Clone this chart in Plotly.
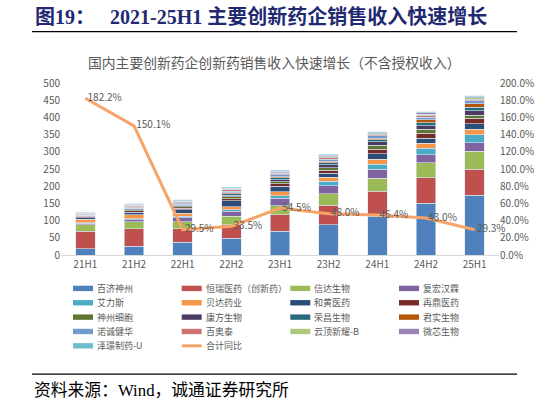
import plotly.graph_objects as go

W, H = 547, 406
# plot area in pixels
PL, PR, PT, PB = 61, 499, 83, 255.5

periods = ['21H1', '21H2', '22H1', '22H2', '23H1', '23H2', '24H1', '24H2', '25H1']

companies = ['百济神州', '恒瑞医药（创新药）', '信达生物', '复宏汉霖',
             '艾力斯', '贝达药业', '和黄医药', '再鼎医药',
             '神州细胞', '康方生物', '荣昌生物', '君实生物',
             '诺诚健华', '百奥泰', '云顶新耀-B', '微芯生物',
             '泽璟制药-U']

beigene = [18, 26, 37, 48, 69, 88, 113, 151, 173]
hengrui = [51, 50, 39, 40, 48, 56, 72, 73, 77]
innovent = [19, 20, 21, 24, 26, 34, 38, 44, 51]
henlius = [4, 6, 11, 15, 22, 24, 27, 24, 26]
allist = [2, 3, 4, 4, 7, 12, 14, 19, 22]
betta = [10, 12, 10, 10, 12, 12, 15, 14, 17]
hutchmed = [5, 7, 9, 17, 16, 12, 15, 15, 16]
zailab = [3, 5, 5, 6, 7, 8, 14, 14, 15]
sinocell = [2, 3, 4, 5, 6, 8, 11, 12, 9]
akeso = [1, 2, 4, 5, 6, 8, 10, 10, 13]
remegen = [1, 2, 3, 4, 5, 6, 6, 9, 11]
junshi = [3, 3, 2, 3, 4, 5, 5, 8, 10]
innocare = [1, 2, 3, 4, 5, 5, 6, 7, 8]
biothera = [2, 3, 3, 4, 4, 5, 4, 5, 5]
everest = [0, 1, 1, 2, 2, 3, 3, 4, 4]
chipscreen = [2, 2, 2, 3, 4, 4, 3, 4, 3]
zelgen = [1, 2, 3, 3, 3, 3, 3, 3, 3]

yoy = [1.822, 1.501, 0.295, 0.335, 0.545, 0.480, 0.464, 0.430, 0.293]
yoy_labels = ['182.2%', '150.1%', '29.5%', '33.5%', '54.5%', '48.0%', '46.4%', '43.0%', '29.3%']

series = [beigene, hengrui, innovent, henlius, allist, betta, hutchmed, zailab,
          sinocell, akeso, remegen, junshi, innocare, biothera, everest,
          chipscreen, zelgen]

colors = ['#4F81BD', '#C0504D', '#9BBB59', '#8064A2', '#4BACC6', '#F79646',
          '#2C4D75', '#772C2A', '#5F7530', '#4D3B62', '#276A7C', '#B65708',
          '#729ACA', '#CD7371', '#AFC97A', '#9983B5', '#6FBDD1']
line_color = '#F7A468'
grey = '#595959'
cjk = 'Noto Sans CJK SC'
serif = 'Liberation Serif, Noto Sans CJK SC'


def px_x(x):
    return (x - PL) / (PR - PL)


def px_y(y):
    return (PB - y) / (PB - PT)


fig = go.Figure()

for name, vals, col in zip(companies, series, colors):
    fig.add_trace(go.Bar(
        x=periods, y=vals, name=name,
        marker=dict(color=col, line=dict(color='#DCE6F2', width=0.6)),
        showlegend=False
    ))

fig.add_trace(go.Scatter(
    x=periods, y=yoy, name='合计同比', yaxis='y2',
    mode='lines+text',
    line=dict(color=line_color, width=3),
    text=['\u00a0' + t for t in yoy_labels],
    textposition='middle right',
    textfont=dict(color=grey, size=10, family=cjk),
    showlegend=False, cliponaxis=False
))

shapes = []
annotations = []

# custom legend, 4 columns like the excel one
legend_names = companies + ['合计同比']
legend_colors = colors + [line_color]
col_x = [73, 181.7, 290.3, 399]
row_y0, row_dy = 289, 14.4
for i, (nm, col) in enumerate(zip(legend_names, legend_colors)):
    cx = col_x[i % 4]
    cy = row_y0 + (i // 4) * row_dy
    if nm == '合计同比':
        shapes.append(dict(type='line', xref='paper', yref='paper',
                           x0=px_x(cx), x1=px_x(cx + 20), y0=px_y(cy), y1=px_y(cy),
                           line=dict(color=col, width=3)))
    else:
        shapes.append(dict(type='rect', xref='paper', yref='paper',
                           x0=px_x(cx), x1=px_x(cx + 20),
                           y0=px_y(cy + 2.7), y1=px_y(cy - 2.7),
                           fillcolor=col, line=dict(width=0)))
    annotations.append(dict(text=nm, xref='paper', yref='paper',
                            x=px_x(cx + 22), y=px_y(cy), xanchor='left', yanchor='middle',
                            showarrow=False, font=dict(color=grey, size=9, family=cjk)))

# header and footer rules
for yy in [31.5, 375]:
    shapes.append(dict(type='line', xref='paper', yref='paper',
                       x0=px_x(32), x1=px_x(517), y0=px_y(yy), y1=px_y(yy),
                       line=dict(color='black', width=1.2)))

annotations.append(dict(
    text='<b>图19：\u00a0\u00a0 2021-25H1 主要创新药企销售收入快速增长</b>',
    xref='paper', yref='paper', x=px_x(33), y=px_y(16),
    xanchor='left', yanchor='middle', showarrow=False,
    font=dict(color='#1F2A72', size=20, family=serif)))
annotations.append(dict(
    text='国内主要创新药企创新药销售收入快速增长（不含授权收入）',
    xref='paper', yref='paper', x=px_x(274), y=px_y(62),
    xanchor='center', yanchor='middle', showarrow=False,
    font=dict(color=grey, size=13.8, family=cjk)))
annotations.append(dict(
    text='资料来源：Wind，诚通证券研究所',
    xref='paper', yref='paper', x=px_x(32), y=px_y(391),
    xanchor='left', yanchor='middle', showarrow=False,
    font=dict(color='black', size=16.8, family=serif)))

fig.update_layout(
    width=W, height=H,
    margin=dict(l=PL, r=W - PR, t=PT, b=H - PB),
    paper_bgcolor='white', plot_bgcolor='white',
    barmode='stack', bargap=0.6,
    showlegend=False,
    font=dict(family=cjk, color=grey, size=10),
    xaxis=dict(showgrid=False, showline=True, linecolor='#D9D9D9', linewidth=1,
               ticks='', tickfont=dict(size=10, color=grey)),
    yaxis=dict(range=[0, 500], dtick=50, showgrid=False, zeroline=False,
               ticks='', tickfont=dict(size=10, color=grey)),
    yaxis2=dict(range=[0, 2.0], dtick=0.2, tickformat='.1%', overlaying='y',
                side='right', showgrid=False, zeroline=False, ticks='',
                tickfont=dict(size=10, color=grey)),
    shapes=shapes,
    annotations=annotations,
)

# drop the default 8px page margin so the figure sits at the window corner
fig.write_html("out.html", config={'displayModeBar': False},
               post_script="document.body.style.margin='0';")
